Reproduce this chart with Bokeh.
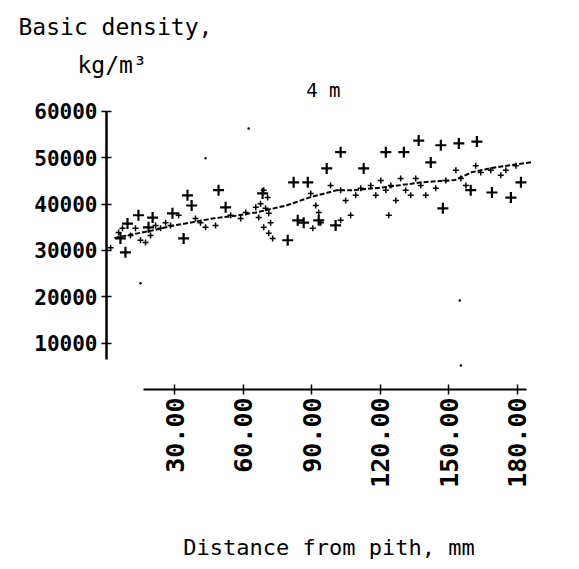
import math
from bokeh.plotting import figure
from bokeh.models import FixedTicker, NumeralTickFormatter, Label, Title
from bokeh.embed import file_html
from bokeh.resources import INLINE

# ---- data ----
x_ticks = [30, 60, 90, 120, 150, 180]
y_ticks = [10000, 20000, 30000, 40000, 50000, 60000]

# large "+" observations (distance mm, density)
plus_x = [6.1, 8.3, 9.2, 14.0, 20.2, 18.4, 28.9, 35.5, 37.3, 33.8, 49.1, 52.2,
          68.4, 79.4, 82.0, 88.2, 96.5, 102.6, 100.4, 112.7, 122.4, 130.3,
          136.8, 146.5, 154.4, 162.3, 142.1, 147.4, 159.6, 168.9, 177.2, 181.6,
          86.4, 93.0, 83.8]
plus_y = [32600, 29600, 35800, 37600, 37100, 35000, 38000, 41900, 39700, 32600,
          43000, 39300, 42300, 32200, 44700, 44700, 47700, 51200, 35400, 47700,
          51200, 51200, 53700, 52700, 53100, 53500, 49000, 39100, 43000, 42500,
          41400, 44700, 36000, 36500, 36500]

# small marks of the dense cloud
small_x = [1.8, 5.3, 7.0, 10.5, 12.7, 14.9, 17.1, 19.3, 21.5, 23.7, 25.9, 28.1,
           31.6, 39.0, 41.2, 43.4, 47.8, 54.4, 58.8, 61.0, 65.4, 66.7, 68.9,
           70.6, 67.5, 69.7, 71.1, 68.9, 71.1, 72.8, 71.9, 89.5, 91.7, 93.0,
           93.9, 90.4, 98.2, 102.6, 104.8, 109.2, 111.4, 115.8, 118.0, 120.2,
           122.4, 124.6, 126.8, 128.9, 131.1, 133.3, 135.5, 137.7, 139.9,
           144.3, 148.7, 153.1, 155.3, 157.5, 161.8, 164.0, 168.4, 172.8,
           175.0, 179.4, 123.7, 102.6, 107.0]
small_y = [30600, 33900, 34800, 33200, 34800, 32200, 31700, 33200, 35400, 34800,
           36000, 35400, 37600, 36900, 36000, 35000, 35400, 37600, 36900, 38200,
           39300, 37100, 43000, 41400, 40100, 39100, 38000, 35000, 33700, 32600,
           36000, 42300, 39700, 38200, 36000, 34800, 44000, 43000, 40800, 41900,
           43400, 44000, 41900, 45100, 43000, 44000, 40800, 45500, 43000, 41900,
           45500, 44000, 41900, 43400, 45100, 47300, 45500, 44000, 48300, 46800,
           47300, 46200, 47300, 48300, 37600, 36500, 37600]

# running trend (dashed)
trend_x = [3.5, 19.9, 29.6, 34.5, 46.5, 56.6, 65.5, 78.8, 89.4, 100.9, 108.4,
           123.0, 138.1, 152.7, 160.2, 169.0, 186.7]
trend_y = [32700, 34300, 35400, 35800, 36900, 37500, 38200, 39700, 41500, 43000,
           43000, 43700, 44700, 45200, 46900, 47800, 49100]

# stray specks inside the plot
stray_x = [43.4, 62.3, 14.9, 154.8, 155.3]
stray_y = [49900, 56300, 22900, 19200, 5200]

FONT = "DejaVu Sans Mono"

p = figure(width=579, height=569, x_range=(0, 195), y_range=(0, 67100),
           output_backend="svg", toolbar_location=None,
           min_border_left=106, min_border_right=28,
           min_border_top=78, min_border_bottom=180)
p.grid.visible = False
p.outline_line_color = None
p.background_fill_color = "white"
p.border_fill_color = "white"

p.line(trend_x, trend_y, line_color="black", line_width=2, line_dash="5 2")
p.scatter(small_x, small_y, marker="cross", size=6, line_width=1.5,
          line_color="black")
p.scatter(plus_x, plus_y, marker="cross", size=11, line_width=2.2,
          line_color="black")
p.scatter(stray_x, stray_y, marker="circle", size=2.5, fill_color="black",
          line_color=None)

# y axis
ya = p.yaxis[0]
ya.bounds = (6500, 60000)
ya.ticker = FixedTicker(ticks=y_ticks, minor_ticks=[])
ya.formatter = NumeralTickFormatter(format="0")
ya.axis_line_width = 2.5
ya.major_tick_in = 5
ya.major_tick_out = 5
ya.major_tick_line_width = 1.5
ya.minor_tick_line_color = None
ya.major_label_text_font = FONT
ya.major_label_text_font_style = "bold"
ya.major_label_text_font_size = "21px"
ya.major_label_text_color = "black"
ya.major_label_standoff = 4

# x axis
xa = p.xaxis[0]
xa.bounds = (16, 184)
xa.ticker = FixedTicker(ticks=x_ticks, minor_ticks=[])
xa.formatter = NumeralTickFormatter(format="0.00")
xa.major_label_orientation = math.pi / 2
xa.axis_line_width = 2
xa.major_tick_in = 5
xa.major_tick_out = 5
xa.major_tick_line_width = 1.5
xa.minor_tick_line_color = None
xa.major_label_text_font = FONT
xa.major_label_text_font_style = "bold"
xa.major_label_text_font_size = "25px"
xa.major_label_text_color = "black"
xa.major_label_standoff = 3
xa.axis_label = "Distance from pith, mm"
xa.axis_label_text_font = FONT
xa.axis_label_text_font_style = "normal"
xa.axis_label_text_font_size = "22px"
xa.axis_label_text_color = "black"
xa.axis_label_standoff = 44

# titles above the frame (first added sits closest to the frame)
p.add_layout(Title(text="kg/m³", align="left", offset=-29, standoff=2,
                   text_font=FONT, text_font_size="23px",
                   text_font_style="normal", text_color="black"), "above")
p.add_layout(Title(text="Basic density,", align="left", offset=-88, standoff=18,
                   text_font=FONT, text_font_size="23px",
                   text_font_style="normal", text_color="black"), "above")

p.add_layout(Label(x=95, y=64600, text="4 m", text_font=FONT,
                   text_font_size="19px", text_color="black",
                   text_align="center", text_baseline="middle"))

open("out.html", "w").write(file_html(p, INLINE))
